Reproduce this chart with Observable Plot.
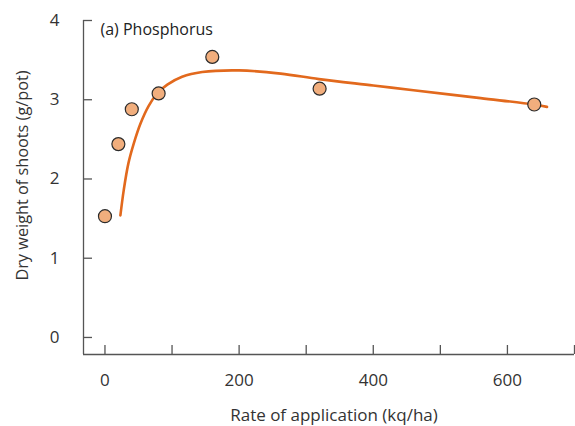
<!DOCTYPE html>
<html><head><meta charset="utf-8">
<script src="https://cdn.jsdelivr.net/npm/d3@7"></script>
<script src="https://cdn.jsdelivr.net/npm/@observablehq/plot@0.6"></script>
<style>body{margin:0;background:#fff}</style>
</head><body><div id="chart"></div>
<script>
// Observed data points
const rateX = [0, 20, 40, 80, 160, 320, 640];
const dryWeight = [1.53, 2.44, 2.88, 3.08, 3.54, 3.14, 2.94];
// Fitted curve
const fitX = [23, 28, 35, 43, 53, 65, 78, 93, 115, 145, 200, 262, 319, 400, 460, 560, 639, 659];
const fitY = [1.54, 1.86, 2.2, 2.45, 2.7, 2.92, 3.08, 3.19, 3.29, 3.35, 3.37, 3.33, 3.26, 3.18, 3.12, 3.02, 2.94, 2.91];
// Axes
const xTicks = [0, 100, 200, 300, 400, 500, 600, 700];
const xTickLabels = [0, 200, 400, 600];
const yTicks = [0, 1, 2, 3, 4];
const titleText = "(a) Phosphorus";
const xLabel = "Rate of application (kq/ha)";
const yLabel = "Dry weight of shoots (g/pot)";

const points = rateX.map((x, i) => ({x, y: dryWeight[i]}));
const fit = fitX.map((x, i) => ({x, y: fitY[i]}));
const axisColor = "#555";

const chart = Plot.plot({
  width: 575, height: 426,
  marginLeft: 83, marginRight: 1, marginTop: 20, marginBottom: 72,
  x: {domain: [-32, 700]},
  y: {domain: [-0.215, 4]},
  style: {fontFamily: "'Open Sans', sans-serif", fontSize: "17px", color: "#333", background: "white"},
  marks: [
    Plot.ruleX([-32], {stroke: axisColor, strokeWidth: 1.3}),
    Plot.ruleY([-0.215], {stroke: axisColor, strokeWidth: 1.3}),
    Plot.axisX({ticks: xTicks, tickSize: -9, tickFormat: () => "", stroke: axisColor, strokeWidth: 1.3, label: null}),
    Plot.axisX({ticks: xTickLabels, tickSize: 0, tickPadding: 19, tickFormat: d => String(d), fill: "#333", fontSize: 17, label: null}),
    Plot.axisY({ticks: yTicks, tickSize: -9, tickFormat: () => "", stroke: axisColor, strokeWidth: 1.3, label: null}),
    Plot.axisY({ticks: yTicks, tickSize: 0, tickPadding: 24, tickFormat: d => String(d), fill: "#333", fontSize: 17, label: null}),
    Plot.line(fit, {x: "x", y: "y", stroke: "#E2691D", strokeWidth: 2.6, curve: "catmull-rom"}),
    Plot.dot(points, {x: "x", y: "y", r: 6.5, fill: "#F1AE7D", stroke: "#2b2b2b", strokeWidth: 1.2}),
    Plot.text([titleText], {frameAnchor: "top-left", dx: 17, dy: 9, lineAnchor: "middle", textAnchor: "start", fill: "#222", fontSize: 16}),
    Plot.text([xLabel], {frameAnchor: "bottom", dx: 5, dy: 61, lineAnchor: "middle", textAnchor: "middle", fill: "#333", fontSize: 17}),
    Plot.text([yLabel], {frameAnchor: "left", dx: -61, dy: -12, rotate: -90, lineAnchor: "middle", textAnchor: "middle", fill: "#333", fontSize: 16.3})
  ]
});
document.getElementById("chart").appendChild(chart);
</script>
</body></html>
